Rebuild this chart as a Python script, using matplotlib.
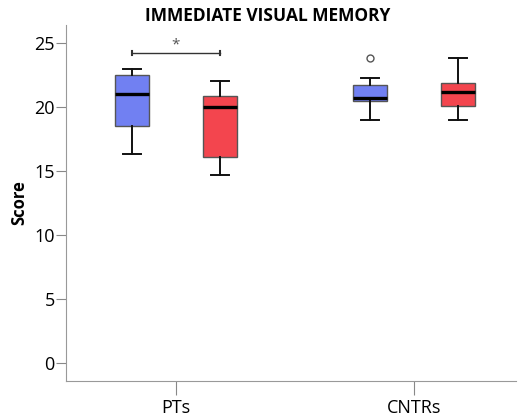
import numpy as np
import matplotlib.pyplot as plt

plt.rcParams['font.family'] = ['Open Sans', 'DejaVu Sans']

groups = ['PTs', 'CNTRs']
series = ['blue', 'red']
colors = ['#7180f2', '#f3454e']

# box stats per group, order: blue, red
q1 = [[18.5, 16.1], [20.45, 20.1]]
med = [[21.0, 20.0], [20.7, 21.2]]
q3 = [[22.5, 20.9], [21.7, 21.85]]
whislo = [[16.3, 14.7], [18.95, 18.95]]
whishi = [[23.0, 22.0], [22.25, 23.85]]
fliers = [[[], []], [[23.85], []]]

sig_y = 24.2
yticks = [0, 5, 10, 15, 20, 25]

fig = plt.figure(figsize=(5.18, 4.19), dpi=100)
ax = fig.add_axes([0.127, 0.091, 0.87, 0.849])

offset = 0.185
width = 0.143
for g in range(len(groups)):
    for s in range(len(series)):
        st = [dict(med=med[g][s], q1=q1[g][s], q3=q3[g][s],
                   whislo=whislo[g][s], whishi=whishi[g][s],
                   fliers=fliers[g][s])]
        pos = g + 1 + (offset if s == 1 else -offset)
        ax.bxp(st, positions=[pos], widths=width, capwidths=0.075,
               patch_artist=True, manage_ticks=False,
               boxprops=dict(facecolor=colors[s], edgecolor='#555555', linewidth=1),
               medianprops=dict(color='black', linewidth=2.4),
               whiskerprops=dict(color='#111111', linewidth=1.4),
               capprops=dict(color='#111111', linewidth=1.4),
               flierprops=dict(marker='o', markersize=5, markerfacecolor='white',
                               markeredgecolor='#555555', markeredgewidth=1))

# significance bar
x1, x2 = 1 - offset, 1 + offset
ax.plot([x1, x2], [sig_y, sig_y], color='#333333', lw=1)
ax.plot([x1, x1], [sig_y - 0.15, sig_y + 0.15], color='#333333', lw=1.5)
ax.plot([x2, x2], [sig_y - 0.15, sig_y + 0.15], color='#333333', lw=1.5)
ax.text(1, sig_y + 0.05, '*', ha='center', va='bottom', fontsize=11, color='#555555')

ax.set_xlim(0.538, 2.43)
ax.set_ylim(-1.4, 26.4)
ax.set_xticks([1, 2])
ax.set_xticklabels(groups, fontsize=13)
ax.set_yticks(yticks)
ax.set_yticklabels([str(t) for t in yticks], fontsize=13)
ax.tick_params(axis='y', direction='out', length=7, color='#888888', pad=1)
ax.tick_params(axis='x', direction='out', length=10, color='#888888', pad=3)

for side in ['top', 'right']:
    ax.spines[side].set_visible(False)
for side in ['left', 'bottom']:
    ax.spines[side].set_color('#999999')

ax.set_ylabel('Score', fontsize=12, fontweight='bold', labelpad=4)
fig.text(0.516, 0.963, 'IMMEDIATE VISUAL MEMORY', fontsize=12.5, fontweight='bold',
         ha='center', va='center')

fig.savefig('out.png', dpi=100)
